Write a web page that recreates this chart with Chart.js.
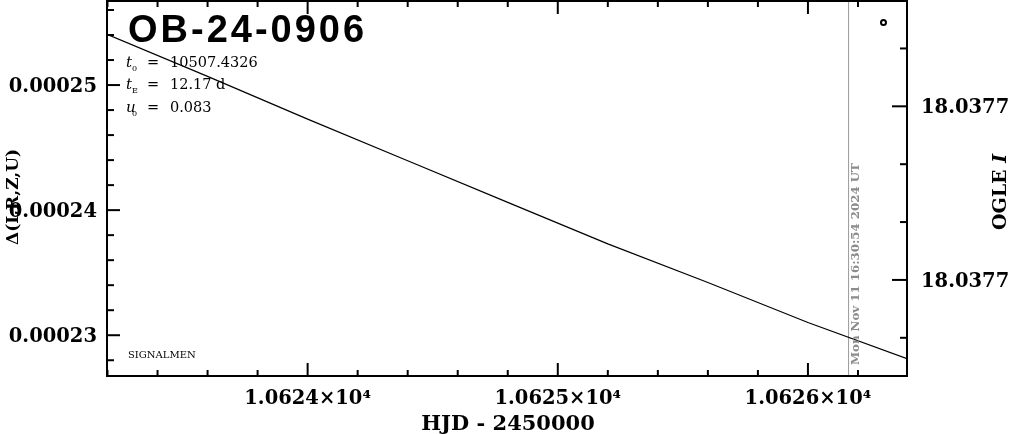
<!DOCTYPE html>
<html>
<head>
<meta charset="utf-8">
<script src="https://cdn.jsdelivr.net/npm/chart.js@4.4.1/dist/chart.umd.min.js"></script>
<style>body{margin:0;background:#fff}</style>
</head>
<body>
<canvas id="lc" width="1011" height="434"></canvas>
<script>
// model difference curve
const hjd = [10623.198, 10623.6, 10624.0, 10624.4, 10624.8, 10625.2, 10625.6, 10626.0, 10626.396]
const delta = [0.00025406, 0.00025069, 0.00024728, 0.00024395, 0.00024062, 0.00023730, 0.00023421, 0.00023102, 0.00022812]
// the lone OGLE I point, top right
const ogleHjd = [10626.302]
const ogleMag = [18.0376755]
const nowHjd = 10626.1624
const nowLabel = "Mon Nov 11 16:30:54 2024 UT"

const xRange = [10623.198, 10626.396]
const yRange = [0.00022674, 0.00025672]
const magRange = [18.0376718, 18.0377366]
const magTicks = [18.03768, 18.03769, 18.0377, 18.03771, 18.03772, 18.03773]
const magMajor = [18.03769, 18.03772]
const params = [["t", "0", "10507.4326"], ["t", "E", "12.17 d"], ["u", "0", "0.083"]]

const xTicks = []
for (let i = 0; i <= 15; i++) xTicks.push(+(10623.2 + i * 0.2).toFixed(1))
const yTicks = []
for (let i = 114; i <= 128; i++) yTicks.push(i * 2e-6)

const isWhole = v => Math.abs(v - Math.round(v)) < 1e-6
const isYMajor = v => Math.round(v * 1e6) % 10 === 0

const serif = "'DejaVu Serif', serif"
Chart.defaults.font.family = serif
Chart.defaults.color = '#000'

const line = (ctx, x1, y1, x2, y2) => {
    ctx.beginPath()
    ctx.moveTo(x1, y1)
    ctx.lineTo(x2, y2)
    ctx.stroke()
}

const decor = {
    id: 'decor',
    afterDraw(chart) {
        const { ctx, chartArea: a, scales } = chart
        ctx.save()
        ctx.strokeStyle = '#000'
        ctx.lineWidth = 2
        ctx.strokeRect(a.left, a.top, a.right - a.left, a.bottom - a.top)
        // inward ticks
        xTicks.forEach(v => {
            const px = scales.x.getPixelForValue(v)
            const len = isWhole(v) ? 13 : 6
            line(ctx, px, a.bottom, px, a.bottom - len)
            line(ctx, px, a.top, px, a.top + len)
        })
        yTicks.forEach(v => {
            const py = scales.y.getPixelForValue(v)
            line(ctx, a.left, py, a.left + (isYMajor(v) ? 13 : 7), py)
        })
        magTicks.forEach(v => {
            const py = scales.y2.getPixelForValue(v)
            line(ctx, a.right, py, a.right - (magMajor.includes(v) ? 15 : 7), py)
        })

        // title and fit parameters
        ctx.fillStyle = '#000'
        ctx.textBaseline = 'alphabetic'
        ctx.font = "bold 38px 'Liberation Sans'"
        ctx.letterSpacing = '3px'
        ctx.fillText("OB-24-0906", 128, 42)
        ctx.letterSpacing = '0px'
        params.forEach((p, i) => {
            const y = 66.5 + i * 22.5
            ctx.font = "italic 15px " + serif
            ctx.fillText(p[0], 126, y)
            ctx.font = "8px " + serif
            ctx.fillText(p[1], 132, y + 4)
            ctx.font = "14.5px " + serif
            ctx.fillText("=", 147, y)
            ctx.fillText(p[2], 170, y)
        })
        ctx.font = "10px " + serif
        ctx.fillText("SIGNALMEN", 128, 358)

        // time stamp along the "now" line
        ctx.save()
        ctx.fillStyle = '#8c8c8c'
        ctx.font = "bold 11.8px " + serif
        ctx.translate(scales.x.getPixelForValue(nowHjd) + 7, 365)
        ctx.rotate(-Math.PI / 2)
        ctx.textBaseline = 'middle'
        ctx.fillText(nowLabel, 0, 0)
        ctx.restore()

        // axis titles
        ctx.textBaseline = 'middle'
        ctx.textAlign = 'center'
        ctx.font = "bold 21px " + serif
        ctx.fillText("HJD - 2450000", 508, 425)

        ctx.save()
        ctx.translate(14, 197)
        ctx.rotate(-Math.PI / 2)
        ctx.font = "bold 17px " + serif
        ctx.fillText("Δ(I,R,Z,U)", 0, 0)
        ctx.restore()

        ctx.save()
        ctx.translate(1001, 192)
        ctx.rotate(-Math.PI / 2)
        ctx.textAlign = 'left'
        ctx.font = "bold 19px " + serif
        const w1 = ctx.measureText("OGLE ").width
        ctx.font = "bold italic 19px " + serif
        const w2 = ctx.measureText("I").width
        ctx.font = "bold 19px " + serif
        ctx.fillText("OGLE ", -(w1 + w2) / 2, 0)
        ctx.font = "bold italic 19px " + serif
        ctx.fillText("I", -(w1 + w2) / 2 + w1, 0)
        ctx.restore()

        ctx.restore()
    }
}

const tickFont = { family: serif, size: 19.5, weight: 'bold' }
const noPad = s => { s.paddingTop = 0; s.paddingBottom = 0; s.paddingLeft = 0; s.paddingRight = 0 }

new Chart(document.getElementById('lc'), {
    type: 'line',
    data: {
        datasets: [{
            data: hjd.map((x, i) => ({ x, y: delta[i] })),
            borderColor: '#000',
            borderWidth: 1.2,
            pointRadius: 0,
            yAxisID: 'y'
        }, {
            data: [{ x: nowHjd, y: yRange[0] }, { x: nowHjd, y: yRange[1] }],
            borderColor: '#9a9a9a',
            borderWidth: 1,
            pointRadius: 0,
            yAxisID: 'y'
        }, {
            data: ogleHjd.map((x, i) => ({ x, y: ogleMag[i] })),
            showLine: false,
            pointRadius: 2.5,
            pointBorderWidth: 2,
            pointBorderColor: '#000',
            pointBackgroundColor: '#fff',
            yAxisID: 'y2'
        }]
    },
    options: {
        responsive: false,
        animation: false,
        devicePixelRatio: 1,
        layout: { padding: { top: 1 }, autoPadding: false },
        plugins: { legend: { display: false }, tooltip: { enabled: false } },
        scales: {
            x: {
                type: 'linear',
                position: 'bottom',
                min: xRange[0],
                max: xRange[1],
                grid: { display: false, drawTicks: false },
                border: { display: false },
                afterBuildTicks: s => { s.ticks = xTicks.map(v => ({ value: v })) },
                afterFit: s => { s.height = 58; noPad(s) },
                ticks: {
                    autoSkip: false,
                    maxRotation: 0,
                    padding: 11,
                    font: tickFont,
                    callback: v => isWhole(v) ? (v / 1e4).toFixed(4) + '×10⁴' : ''
                }
            },
            y: {
                type: 'linear',
                position: 'left',
                min: yRange[0],
                max: yRange[1],
                grid: { display: false, drawTicks: false },
                border: { display: false },
                afterBuildTicks: s => { s.ticks = yTicks.map(v => ({ value: v })) },
                afterFit: s => { s.width = 107; noPad(s) },
                ticks: {
                    autoSkip: false,
                    padding: 10,
                    labelOffset: 1.5,
                    font: tickFont,
                    callback: v => isYMajor(v) ? v.toFixed(5) : ''
                }
            },
            y2: {
                type: 'linear',
                position: 'right',
                reverse: true,
                min: magRange[0],
                max: magRange[1],
                grid: { display: false, drawTicks: false },
                border: { display: false },
                afterBuildTicks: s => { s.ticks = magTicks.map(v => ({ value: v })) },
                afterFit: s => { s.width = 104; noPad(s) },
                ticks: {
                    autoSkip: false,
                    padding: 14,
                    labelOffset: 2,
                    font: tickFont,
                    callback: v => magMajor.includes(v) ? v.toFixed(4) : ''
                }
            }
        }
    },
    plugins: [decor]
})
</script>
</body>
</html>
